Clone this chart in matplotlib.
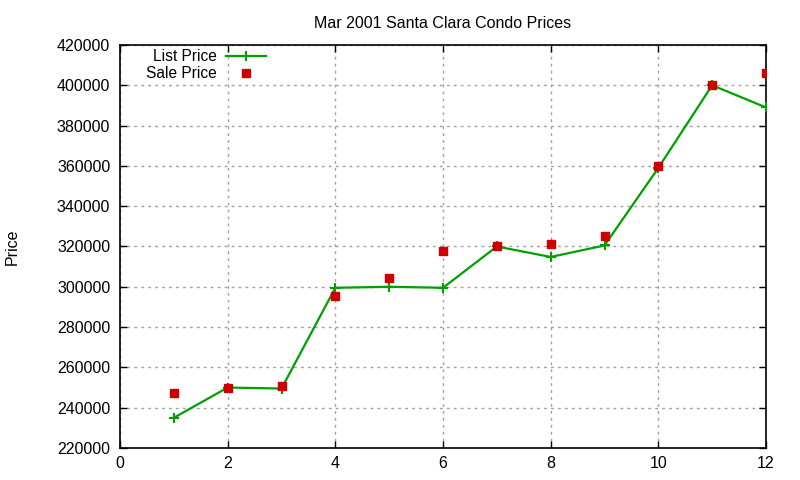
import matplotlib
matplotlib.use("Agg")
import matplotlib.pyplot as plt

months = [1, 2, 3, 4, 5, 6, 7, 8, 9, 10, 11, 12]
list_price = [235000, 250000, 249500, 299500, 300000, 299500, 320000, 314800, 320500, 359000, 400000, 389000]
sale_price = [247500, 250000, 251000, 295500, 304500, 318000, 320000, 321000, 325000, 360000, 400000, 406000]
x_ticks = [0, 2, 4, 6, 8, 10, 12]
y_ticks = list(range(220000, 420001, 20000))

plt.rcParams['font.family'] = ['Liberation Sans', 'DejaVu Sans']
plt.rcParams['font.size'] = 11.5

fig = plt.figure(figsize=(8, 4.8), dpi=100)
ax = fig.add_axes([0.15, 0.0667, 0.8075, 0.8396])

ax.plot(months, list_price, color='#00a000', linewidth=1.6, marker='+',
        markersize=7, markeredgewidth=1.5, label='List Price', zorder=3)
ax.plot(months, sale_price, linestyle='none', color='#cc0000', marker='s',
        markersize=5.5, label='Sale Price', zorder=4)

ax.set_xlim(0, 12)
ax.set_ylim(220000, 420000)
ax.set_xticks(x_ticks)
ax.set_yticks(y_ticks)
ax.set_xticklabels([str(v) for v in x_ticks])
ax.set_yticklabels([str(v) for v in y_ticks])
ax.tick_params(direction='in', length=5, width=1, top=True, right=True, pad=6)
ax.tick_params(axis='y', pad=7)
ax.grid(True, color='#a0a0a0', linestyle=(0, (2, 3)), linewidth=1)
for s in ax.spines.values():
    s.set_linewidth(1.2)

ax.set_title('Mar 2001 Santa Clara Condo Prices', fontsize=11.5, pad=12)
fig.text(0.015, 0.485, 'Price', rotation=90, ha='center', va='center', fontsize=11.5)

ax.legend(loc='upper right', bbox_to_anchor=(0.226, 0.989), frameon=False,
          markerfirst=False, handlelength=2.6, handletextpad=0.57,
          labelspacing=0.1, borderaxespad=0.0, borderpad=0.0, fontsize=11.2)

fig.savefig('out.png', dpi=100)
